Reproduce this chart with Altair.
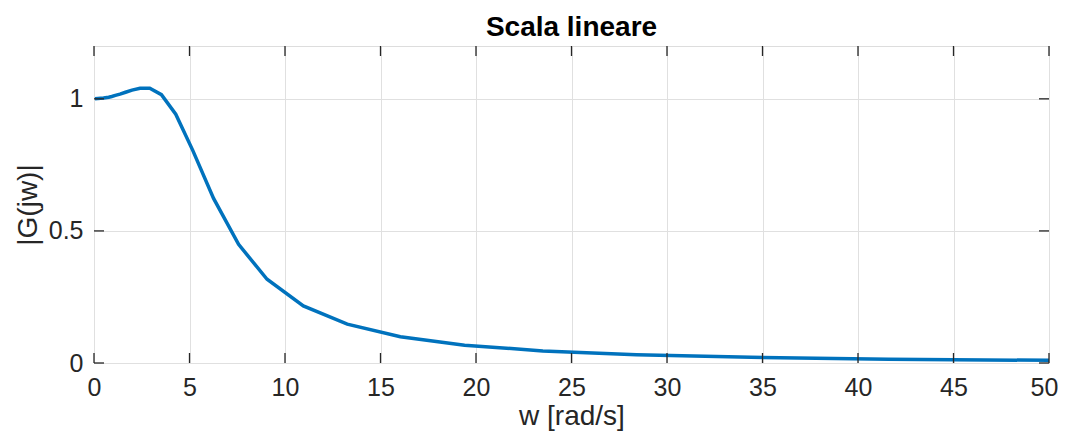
import altair as alt
import pandas as pd

w = [0.05, 0.5, 0.77, 0.93, 1.12, 1.36, 1.65, 1.99, 2.41, 2.92, 3.53, 4.28, 5.17,
     6.26, 7.57, 9.06, 10.96, 13.26, 16.04, 19.4, 23.5, 28.4, 34.4, 41.6, 50.0]
mag = [1.000, 1.003, 1.006, 1.009, 1.013, 1.018, 1.025, 1.033, 1.040, 1.040, 1.016, 0.942, 0.805,
       0.623, 0.449, 0.317, 0.216, 0.147, 0.0994, 0.0675, 0.0458, 0.0313, 0.0213, 0.0145, 0.0100]

x_ticks = [0, 5, 10, 15, 20, 25, 30, 35, 40, 45, 50]
y_ticks = [0, 0.5, 1]

df = pd.DataFrame({"w": w, "mag": mag})
xt = pd.DataFrame({"t": x_ticks})
yt = pd.DataFrame({"t": y_ticks})

W, H = 955, 317
AX = "#262626"
FONT = "Liberation Sans"
TL = 10

xscale = alt.Scale(domain=[0, 50], nice=False, zero=False)
yscale = alt.Scale(domain=[0, 1.2], nice=False, zero=False)

line = alt.Chart(df).mark_line(color="#0072BD", strokeWidth=3.5, clip=True).encode(
    x=alt.X("w:Q", scale=xscale,
            axis=alt.Axis(values=x_ticks, title="w [rad/s]", format="d", grid=True,
                          gridColor="#e0e0e0", domain=False, ticks=False, labelFlush=False,
                          labelOffset={"condition": {"test": "datum.value == 50", "value": -5},
                                       "value": 0},
                          labelFontSize=25, labelPadding=12, labelColor=AX,
                          labelFont=FONT, titleFont=FONT, titleFontSize=28,
                          titleFontWeight="normal", titleColor=AX, titlePadding=2)),
    y=alt.Y("mag:Q", scale=yscale,
            axis=alt.Axis(values=y_ticks, title="|G(jw)|", format="~g", grid=True,
                          gridColor="#e0e0e0", domain=False, ticks=False, labelFlush=False,
                          labelFontSize=25, labelPadding=11, labelColor=AX,
                          labelFont=FONT, titleFont=FONT, titleFontSize=28,
                          titleFontWeight="normal", titleColor=AX, titlePadding=6)),
)

# inward ticks on all four sides
xt_bot = alt.Chart(xt).mark_rule(color=AX, strokeWidth=1.3).encode(
    x=alt.X("t:Q", scale=xscale), y=alt.value(H), y2=alt.value(H - TL))
xt_top = alt.Chart(xt).mark_rule(color=AX, strokeWidth=1.3).encode(
    x=alt.X("t:Q", scale=xscale), y=alt.value(0), y2=alt.value(TL))
yt_left = alt.Chart(yt).mark_rule(color=AX, strokeWidth=1.3).encode(
    y=alt.Y("t:Q", scale=yscale), x=alt.value(0), x2=alt.value(TL))
yt_right = alt.Chart(yt).mark_rule(color=AX, strokeWidth=1.3).encode(
    y=alt.Y("t:Q", scale=yscale), x=alt.value(W), x2=alt.value(W - TL))

chart = alt.layer(line, xt_bot, xt_top, yt_left, yt_right).properties(
    width=W, height=H,
    title=alt.TitleParams("Scala lineare", fontSize=28, font=FONT, fontWeight="bold",
                          color="#000000", offset=3),
    autosize=alt.AutoSizeParams(type="none"),
    padding={"left": 86, "top": 38, "right": 9, "bottom": 71},
).configure_view(stroke=AX, strokeWidth=1.5).configure(background="white")

chart.save("out.html", embed_options={"renderer": "svg", "actions": False})
